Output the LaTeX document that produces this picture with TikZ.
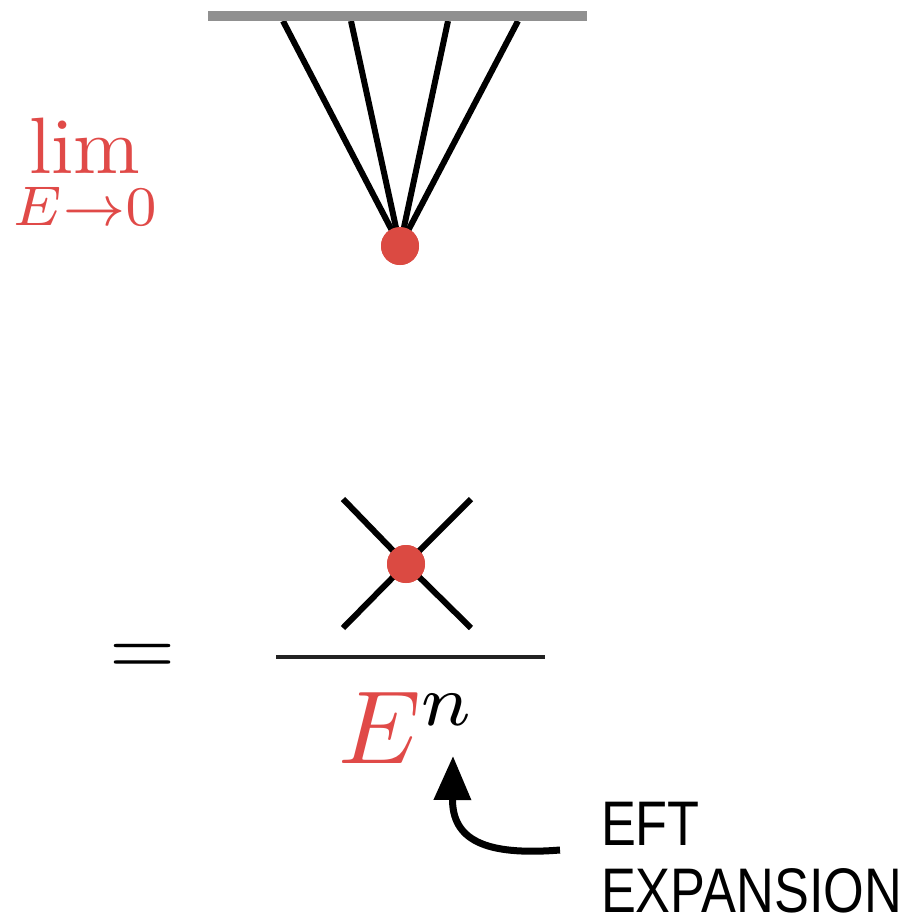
\documentclass[tikz,border=0pt]{standalone}
\usepackage{fontspec}
\usetikzlibrary{arrows.meta}
\newfontfamily\eftfont[FakeStretch=0.83]{Liberation Sans}
\definecolor{dotred}{HTML}{DB4A42}
\definecolor{txtred}{HTML}{E04A48}
\definecolor{bargray}{HTML}{909090}
\definecolor{fracgray}{HTML}{222222}
\tikzset{
  leg/.style={line width=6pt, black},
  vertex/.style={circle, fill=dotred, minimum size=38pt, inner sep=0pt},
  lbl/.style={inner sep=0pt, outer sep=0pt},
}
\begin{document}
\begin{tikzpicture}[x=1pt, y=-1pt]
\useasboundingbox (0,0) rectangle (919,916);
% top diagram
\coordinate (b1) at (283,21);
\coordinate (b2) at (351,21);
\coordinate (b3) at (448,21);
\coordinate (b4) at (518,21);
\coordinate (barL) at (208,16);
\coordinate (barR) at (587,16);
\node[vertex] (d1) at (400,246) {};
\draw[leg] (b1) -- (d1.center);
\draw[leg] (b2) -- (d1.center);
\draw[leg] (b3) -- (d1.center);
\draw[leg] (b4) -- (d1.center);
\draw[line width=10pt, bargray] (barL) -- (barR);
\node[vertex] at (d1) {};
\node[lbl, text=txtred] (lim) at (85,176) {\scalebox{8}{$\displaystyle\lim_{E\to 0}$}};
% equals
\node[lbl] (eq) at (143,660) {\scalebox{8.5}{$=$}};
% cross vertex
\coordinate (x1) at (343,499);
\coordinate (x2) at (471,499);
\coordinate (x3) at (343,628);
\coordinate (x4) at (471,628);
\node[vertex] (d2) at (406,564) {};
\draw[leg] (x1) -- (d2.center) -- (x4);
\draw[leg] (x2) -- (d2.center) -- (x3);
\node[vertex] at (d2) {};
% fraction bar
\coordinate (fL) at (276,657);
\coordinate (fR) at (545,657);
\draw[line width=3.5pt, fracgray] (fL) -- (fR);
% E^n
\node[lbl, anchor=base west] (En) at (338,763) {\scalebox{10.4}{$\color{txtred}E^{\color{black}n}$}};
% arrow
\coordinate (aS) at (560,850);
\coordinate (aE) at (453,756);
\draw[line width=7pt, -{Triangle[length=44pt, width=36pt]}] (aS) .. controls (485,856) and (452,840) .. (aE);
% EFT text
\node[lbl, anchor=base west, text depth=0pt, font=\eftfont\fontsize{63}{70}\selectfont] (eft) at (601,845) {EFT};
\node[lbl, anchor=base west, text depth=0pt, font=\eftfont\fontsize{63}{70}\selectfont] (exp) at (601,912) {EXPANSION};
\end{tikzpicture}
\end{document}
